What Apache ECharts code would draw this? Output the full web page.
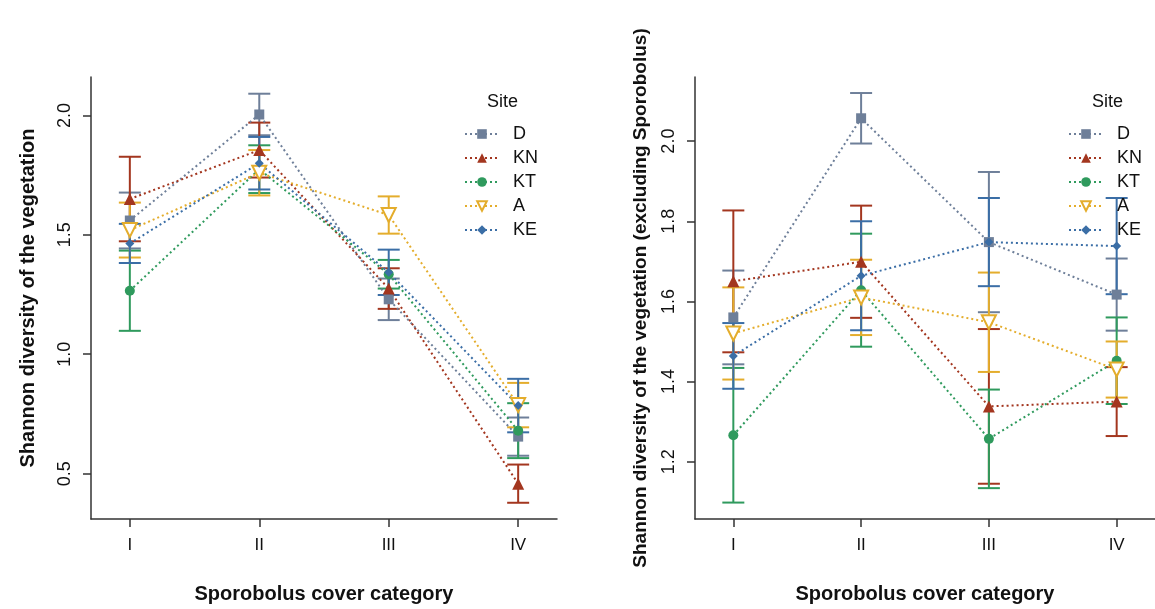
<!DOCTYPE html>
<html>
<head>
<meta charset="utf-8">
<script src="https://cdn.jsdelivr.net/npm/echarts@6/dist/echarts.min.js"></script>
<style>
  html, body { margin: 0; padding: 0; background: #fff; }
  #chart { width: 1155px; height: 609px; }
</style>
</head>
<body>
<div id="chart"></div>
<script>
// categories and sites
const categories = ['I', 'II', 'III', 'IV'];
const catPos = [1, 2, 3, 4];
const sites = ['D', 'KN', 'KT', 'A', 'KE'];

// left panel: Shannon diversity (mean, se)
const allD = [1.560, 2.004, 1.230, 0.655];
const allDse = [0.117, 0.087, 0.087, 0.080];
const allKN = [1.650, 1.855, 1.275, 0.458];
const allKNse = [0.177, 0.115, 0.085, 0.080];
const allKT = [1.266, 1.775, 1.335, 0.680];
const allKTse = [0.168, 0.100, 0.060, 0.115];
const allA = [1.520, 1.760, 1.583, 0.787];
const allAse = [0.115, 0.095, 0.078, 0.093];
const allKE = [1.464, 1.800, 1.343, 0.785];
const allKEse = [0.082, 0.110, 0.095, 0.112];

// right panel: excluding Sporobolus (mean, se)
const exD = [1.560, 2.057, 1.748, 1.617];
const exDse = [0.117, 0.063, 0.175, 0.090];
const exKN = [1.650, 1.699, 1.338, 1.350];
const exKNse = [0.177, 0.140, 0.193, 0.086];
const exKT = [1.266, 1.628, 1.257, 1.452];
const exKTse = [0.168, 0.141, 0.123, 0.108];
const exA = [1.520, 1.610, 1.548, 1.430];
const exAse = [0.115, 0.094, 0.124, 0.070];
const exKE = [1.464, 1.664, 1.748, 1.738];
const exKEse = [0.082, 0.136, 0.110, 0.120];

// tick labels
const leftTicks = [0.5, 1.0, 1.5, 2.0];
const rightTicks = [1.2, 1.4, 1.6, 1.8, 2.0];

const panels = [
  { means: [allD, allKN, allKT, allA, allKE], ses: [allDse, allKNse, allKTse, allAse, allKEse] },
  { means: [exD, exKN, exKT, exA, exKE], ses: [exDse, exKNse, exKTse, exAse, exKEse] }
];

const colors = ['#6e7f99', '#a3361f', '#2f9a5d', '#e4ad2c', '#3b6ea6'];
const symbols = ['rect', 'triangle', 'circle', 'emptyTriangle', 'diamond'];
const symbolSizes = [10, 12, 10, 14, 9];
const FONT = 'Liberation Sans, Arial, sans-serif';

const chart = echarts.init(document.getElementById('chart'));

function errorBars(color) {
  return function (params, api) {
    const x = api.value(0);
    const lo = api.coord([x, api.value(1)]);
    const hi = api.coord([x, api.value(2)]);
    const w = 11;
    const st = { stroke: color, lineWidth: 2 };
    return {
      type: 'group',
      children: [
        { type: 'line', shape: { x1: lo[0], y1: lo[1], x2: hi[0], y2: hi[1] }, style: st },
        { type: 'line', shape: { x1: lo[0] - w, y1: lo[1], x2: lo[0] + w, y2: lo[1] }, style: st },
        { type: 'line', shape: { x1: hi[0] - w, y1: hi[1], x2: hi[0] + w, y2: hi[1] }, style: st }
      ]
    };
  };
}

const series = [];
panels.forEach((p, pi) => {
  sites.forEach((s, i) => {
    series.push({
      name: s + '_err' + pi,
      type: 'custom',
      xAxisIndex: pi,
      yAxisIndex: pi,
      z: 2,
      silent: true,
      renderItem: errorBars(colors[i]),
      encode: { x: 0, y: [1, 2] },
      data: catPos.map((c, k) => [c, p.means[i][k] - p.ses[i][k], p.means[i][k] + p.ses[i][k]])
    });
  });
  sites.forEach((s, i) => {
    series.push({
      name: s,
      type: 'line',
      xAxisIndex: pi,
      yAxisIndex: pi,
      z: 3,
      symbol: symbols[i],
      symbolSize: symbolSizes[i],
      symbolRotate: i === 3 ? 180 : 0,
      showAllSymbol: true,
      lineStyle: { color: colors[i], width: 2, type: [2, 3] },
      itemStyle: i === 3
        ? { color: colors[i], borderColor: colors[i], borderWidth: 2 }
        : { color: colors[i] },
      data: catPos.map((c, k) => [c, p.means[i][k]])
    });
  });
});

function xAxis(gi) {
  return {
    type: 'value', gridIndex: gi, min: 0.7, max: 4.3,
    splitLine: { show: false },
    axisLine: { onZero: false, lineStyle: { color: '#333', width: 1.5 } },
    axisTick: { customValues: catPos, length: 8, lineStyle: { color: '#333', width: 1.5 } },
    axisLabel: {
      customValues: catPos, margin: 18, fontSize: 17, color: '#111', fontFamily: FONT,
      formatter: v => categories[Math.round(v) - 1]
    },
    name: 'Sporobolus cover category', nameLocation: 'middle', nameGap: 65,
    nameTextStyle: { fontSize: 20, fontWeight: 'bold', color: '#111', fontFamily: FONT }
  };
}

function yAxis(gi, min, max, ticks, name, gap, size) {
  return {
    type: 'value', gridIndex: gi, min: min, max: max,
    splitLine: { show: false },
    axisLine: { show: true, lineStyle: { color: '#333', width: 1.5 } },
    axisTick: { show: true, customValues: ticks, length: 8, lineStyle: { color: '#333', width: 1.5 } },
    axisLabel: {
      customValues: ticks, rotate: 90, margin: 17, fontSize: 18, color: '#111', fontFamily: FONT,
      formatter: v => v.toFixed(1)
    },
    name: name, nameLocation: 'middle', nameGap: gap,
    nameTextStyle: { fontSize: size, fontWeight: 'bold', color: '#111', fontFamily: FONT }
  };
}

function legend(left) {
  return {
    data: sites, orient: 'vertical', left: left, top: 120,
    itemWidth: 34, itemHeight: 12, itemGap: 6,
    selectedMode: false,
    textStyle: { fontSize: 18, color: '#111', fontFamily: FONT, padding: [0, 0, 0, 9] }
  };
}

chart.setOption({
  animation: false,
  backgroundColor: '#fff',
  title: [
    { text: 'Site', left: 482, top: 88, textStyle: { fontSize: 18, fontWeight: 'normal', color: '#111', fontFamily: FONT } },
    { text: 'Site', left: 1087, top: 88, textStyle: { fontSize: 18, fontWeight: 'normal', color: '#111', fontFamily: FONT } }
  ],
  legend: [legend(459), legend(1063)],
  grid: [
    { left: 91, top: 77, width: 466, height: 448 },
    { left: 695, top: 77, width: 467, height: 448 }
  ],
  xAxis: [xAxis(0), xAxis(1)],
  yAxis: [
    yAxis(0, 0.31, 2.161, leftTicks, 'Shannon diversity of the vegetation', 53, 20),
    yAxis(1, 1.057, 2.160, rightTicks, 'Shannon diversity of the vegetation (excluding Sporobolus)', 45, 19)
  ],
  series: series
});
</script>
</body>
</html>
